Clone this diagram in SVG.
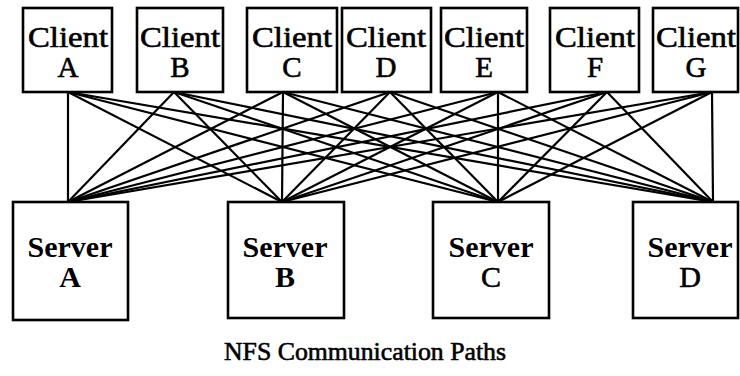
<svg xmlns="http://www.w3.org/2000/svg" width="740" height="376" viewBox="0 0 740 376">
<style>
.box{fill:#fff;stroke:#000;stroke-width:2.6}
.conn line{stroke:#000;stroke-width:2.2}
.ct{font-family:"Liberation Serif","Times New Roman",serif;font-size:29px;text-anchor:middle;fill:#000;stroke:#000;stroke-width:0.6}
.st{font-family:"Liberation Serif","Times New Roman",serif;font-size:30px;font-weight:bold;text-anchor:middle;fill:#000}
.sl{font-family:"Liberation Serif","Times New Roman",serif;font-size:30px;text-anchor:middle;fill:#000;stroke:#000;stroke-width:0.6}
.title{font-family:"Liberation Serif","Times New Roman",serif;font-size:26px;text-anchor:middle;fill:#000;stroke:#000;stroke-width:0.6}
</style>
<rect width="740" height="376" fill="#fff"/>
<g id="connectors" class="conn">
<line x1="68" y1="92" x2="68" y2="202"/><line x1="68" y1="92" x2="282" y2="202"/><line x1="68" y1="92" x2="498" y2="202"/><line x1="68" y1="92" x2="713" y2="202"/>
<line x1="174" y1="92" x2="68" y2="202"/><line x1="174" y1="92" x2="282" y2="202"/><line x1="174" y1="92" x2="498" y2="202"/><line x1="174" y1="92" x2="713" y2="202"/>
<line x1="283" y1="92" x2="68" y2="202"/><line x1="283" y1="92" x2="282" y2="202"/><line x1="283" y1="92" x2="498" y2="202"/><line x1="283" y1="92" x2="713" y2="202"/>
<line x1="390" y1="92" x2="68" y2="202"/><line x1="390" y1="92" x2="282" y2="202"/><line x1="390" y1="92" x2="498" y2="202"/><line x1="390" y1="92" x2="713" y2="202"/>
<line x1="498" y1="92" x2="68" y2="202"/><line x1="498" y1="92" x2="282" y2="202"/><line x1="498" y1="92" x2="498" y2="202"/><line x1="498" y1="92" x2="713" y2="202"/>
<line x1="607" y1="92" x2="68" y2="202"/><line x1="607" y1="92" x2="282" y2="202"/><line x1="607" y1="92" x2="498" y2="202"/><line x1="607" y1="92" x2="713" y2="202"/>
<line x1="712" y1="92" x2="68" y2="202"/><line x1="712" y1="92" x2="282" y2="202"/><line x1="712" y1="92" x2="498" y2="202"/><line x1="712" y1="92" x2="713" y2="202"/>
</g>
<g id="client-a"><rect class="box" x="23" y="8" width="89" height="84"/><text class="ct" x="68" y="47" textLength="80" lengthAdjust="spacingAndGlyphs">Client</text><text class="ct" x="68" y="77">A</text></g>
<g id="client-b"><rect class="box" x="137" y="8" width="86" height="84"/><text class="ct" x="180" y="47" textLength="80" lengthAdjust="spacingAndGlyphs">Client</text><text class="ct" x="180" y="77">B</text></g>
<g id="client-c"><rect class="box" x="247" y="8" width="90" height="84"/><text class="ct" x="292" y="47" textLength="80" lengthAdjust="spacingAndGlyphs">Client</text><text class="ct" x="292" y="77">C</text></g>
<g id="client-d"><rect class="box" x="342" y="8" width="89" height="84"/><text class="ct" x="386" y="47" textLength="80" lengthAdjust="spacingAndGlyphs">Client</text><text class="ct" x="386" y="77">D</text></g>
<g id="client-e"><rect class="box" x="441" y="8" width="86" height="84"/><text class="ct" x="484" y="47" textLength="80" lengthAdjust="spacingAndGlyphs">Client</text><text class="ct" x="484" y="77">E</text></g>
<g id="client-f"><rect class="box" x="550" y="8" width="89" height="84"/><text class="ct" x="595" y="47" textLength="80" lengthAdjust="spacingAndGlyphs">Client</text><text class="ct" x="595" y="77">F</text></g>
<g id="client-g"><rect class="box" x="653" y="8" width="85" height="84"/><text class="ct" x="696" y="47" textLength="80" lengthAdjust="spacingAndGlyphs">Client</text><text class="ct" x="696" y="77">G</text></g>
<g id="server-a"><rect class="box" x="13" y="202" width="115" height="118"/><text class="st" x="70" y="257">Server</text><text class="st" x="70" y="287">A</text></g>
<g id="server-b"><rect class="box" x="228" y="202" width="116" height="116"/><text class="st" x="285" y="257">Server</text><text class="st" x="285" y="287">B</text></g>
<g id="server-c"><rect class="box" x="433" y="202" width="116" height="116"/><text class="st" x="491" y="257">Server</text><text class="sl" x="491" y="287">C</text></g>
<g id="server-d"><rect class="box" x="633" y="202" width="105" height="116"/><text class="st" x="690" y="257">Server</text><text class="sl" x="690" y="287">D</text></g>
<text class="title" x="365" y="360" textLength="282" lengthAdjust="spacingAndGlyphs">NFS Communication Paths</text>
</svg>
